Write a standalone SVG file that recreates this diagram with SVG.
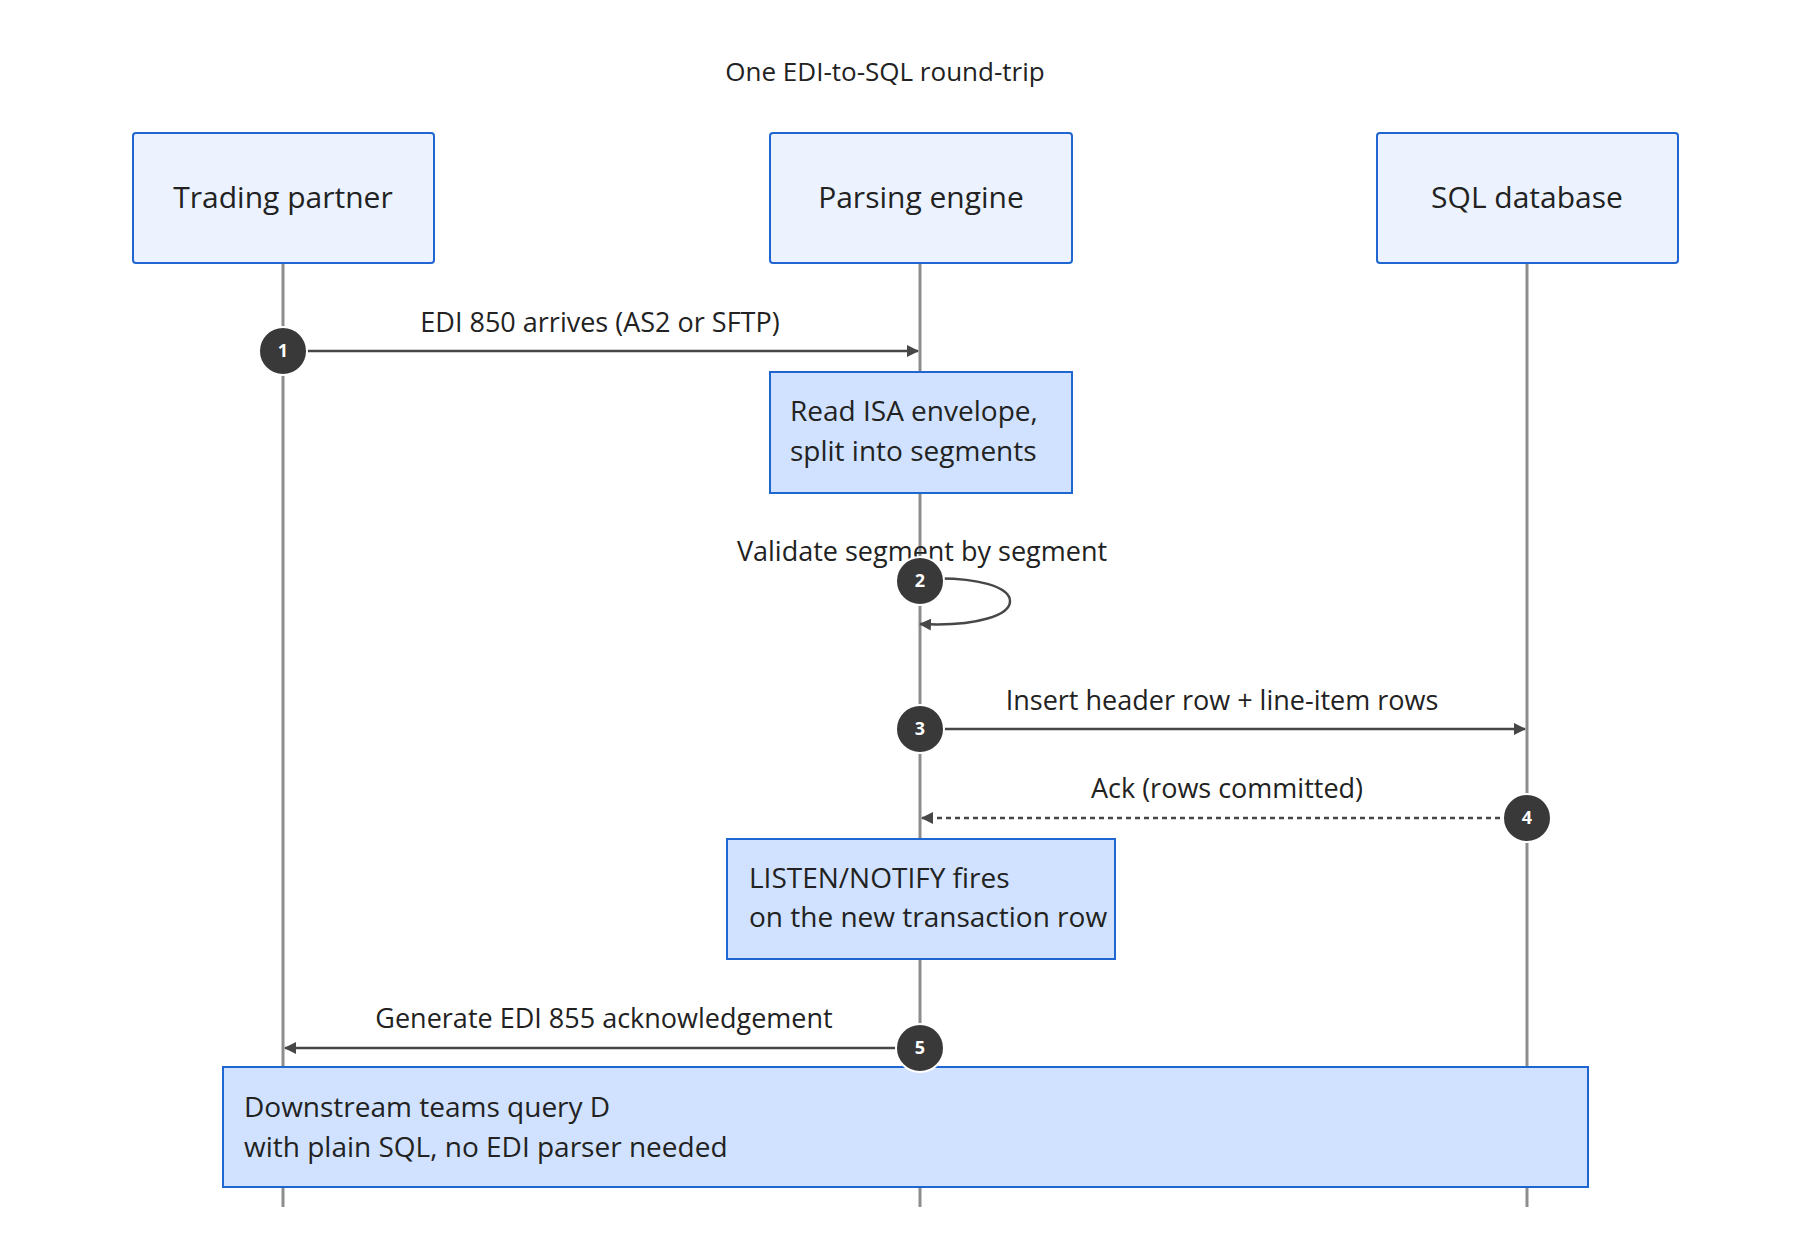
<svg xmlns="http://www.w3.org/2000/svg" width="1802" height="1234" viewBox="0 0 1802 1234">
<style>
text{font-family:"Open Sans","Liberation Sans",sans-serif;fill:#222;}
.actor{fill:#ecf3ff;stroke:#1f66d1;stroke-width:2;}
.note{fill:#d0e2ff;stroke:#1f66d1;stroke-width:2;}
.life{stroke:#8d8d8d;stroke-width:3;}
.msg{stroke:#474747;stroke-width:2.5;fill:none;}
.num{fill:#393939;stroke:#fff;stroke-width:2;}
.numt{fill:#fff;font-size:18px;font-weight:bold;text-anchor:middle;}
.lbl{font-size:27px;text-anchor:middle;}
.nt{font-size:28px;}
</style>
<defs>
<marker id="ah" markerWidth="12" markerHeight="12" refX="11" refY="6" orient="auto" markerUnits="userSpaceOnUse"><path d="M0,0 L12,6 L0,12 z" fill="#474747"/></marker>
</defs>
<rect width="1802" height="1234" fill="#fff"/>
<text x="885" y="81" font-size="26" text-anchor="middle">One EDI-to-SQL round-trip</text>
<g id="lifelines">
<line class="life" x1="283" y1="263" x2="283" y2="1207"/>
<line class="life" x1="920" y1="263" x2="920" y2="1207"/>
<line class="life" x1="1527" y1="263" x2="1527" y2="1207"/>
</g>
<g id="trading"><rect class="actor" x="133" y="133" width="301" height="130" rx="3"/><text x="283" y="208" font-size="30" text-anchor="middle">Trading partner</text></g>
<g id="parser"><rect class="actor" x="770" y="133" width="302" height="130" rx="3"/><text x="921" y="208" font-size="30" text-anchor="middle">Parsing engine</text></g>
<g id="sqldb"><rect class="actor" x="1377" y="133" width="301" height="130" rx="3"/><text x="1527" y="208" font-size="30" text-anchor="middle">SQL database</text></g>
<g id="note1"><rect class="note" x="770" y="372" width="302" height="121"/><text class="nt" x="790" y="421">Read ISA envelope,</text><text class="nt" x="790" y="461">split into segments</text></g>
<g id="note2"><rect class="note" x="727" y="839" width="388" height="120"/><text class="nt" x="749" y="888">LISTEN/NOTIFY fires</text><text class="nt" x="749" y="927">on the new transaction row</text></g>
<g id="note3"><rect class="note" x="223" y="1067" width="1365" height="120"/><text class="nt" x="244" y="1117">Downstream teams query D</text><text class="nt" x="244" y="1157">with plain SQL, no EDI parser needed</text></g>
<g id="connectors">
<line class="msg" x1="283" y1="351" x2="918" y2="351" marker-end="url(#ah)"/>
<text class="lbl" x="600" y="332">EDI 850 arrives (AS2 or SFTP)</text>
<path class="msg" d="M920,579 C1040,572 1040,630 920,624" marker-end="url(#ah)"/>
<text class="lbl" x="922" y="561">Validate segment by segment</text>
<line class="msg" x1="920" y1="729" x2="1525" y2="729" marker-end="url(#ah)"/>
<text class="lbl" x="1222" y="710">Insert header row + line-item rows</text>
<line class="msg" x1="1527" y1="818" x2="922" y2="818" stroke-dasharray="5,4" marker-end="url(#ah)"/>
<text class="lbl" x="1227" y="798">Ack (rows committed)</text>
<line class="msg" x1="920" y1="1048" x2="285" y2="1048" marker-end="url(#ah)"/>
<text class="lbl" x="604" y="1028">Generate EDI 855 acknowledgement</text>
</g>
<g id="numbers">
<circle class="num" cx="283" cy="351" r="24"/><text class="numt" x="283" y="357">1</text>
<circle class="num" cx="920" cy="581" r="24"/><text class="numt" x="920" y="587">2</text>
<circle class="num" cx="920" cy="729" r="24"/><text class="numt" x="920" y="735">3</text>
<circle class="num" cx="1527" cy="818" r="24"/><text class="numt" x="1527" y="824">4</text>
<circle class="num" cx="920" cy="1048" r="24"/><text class="numt" x="920" y="1054">5</text>
</g>
</svg>
